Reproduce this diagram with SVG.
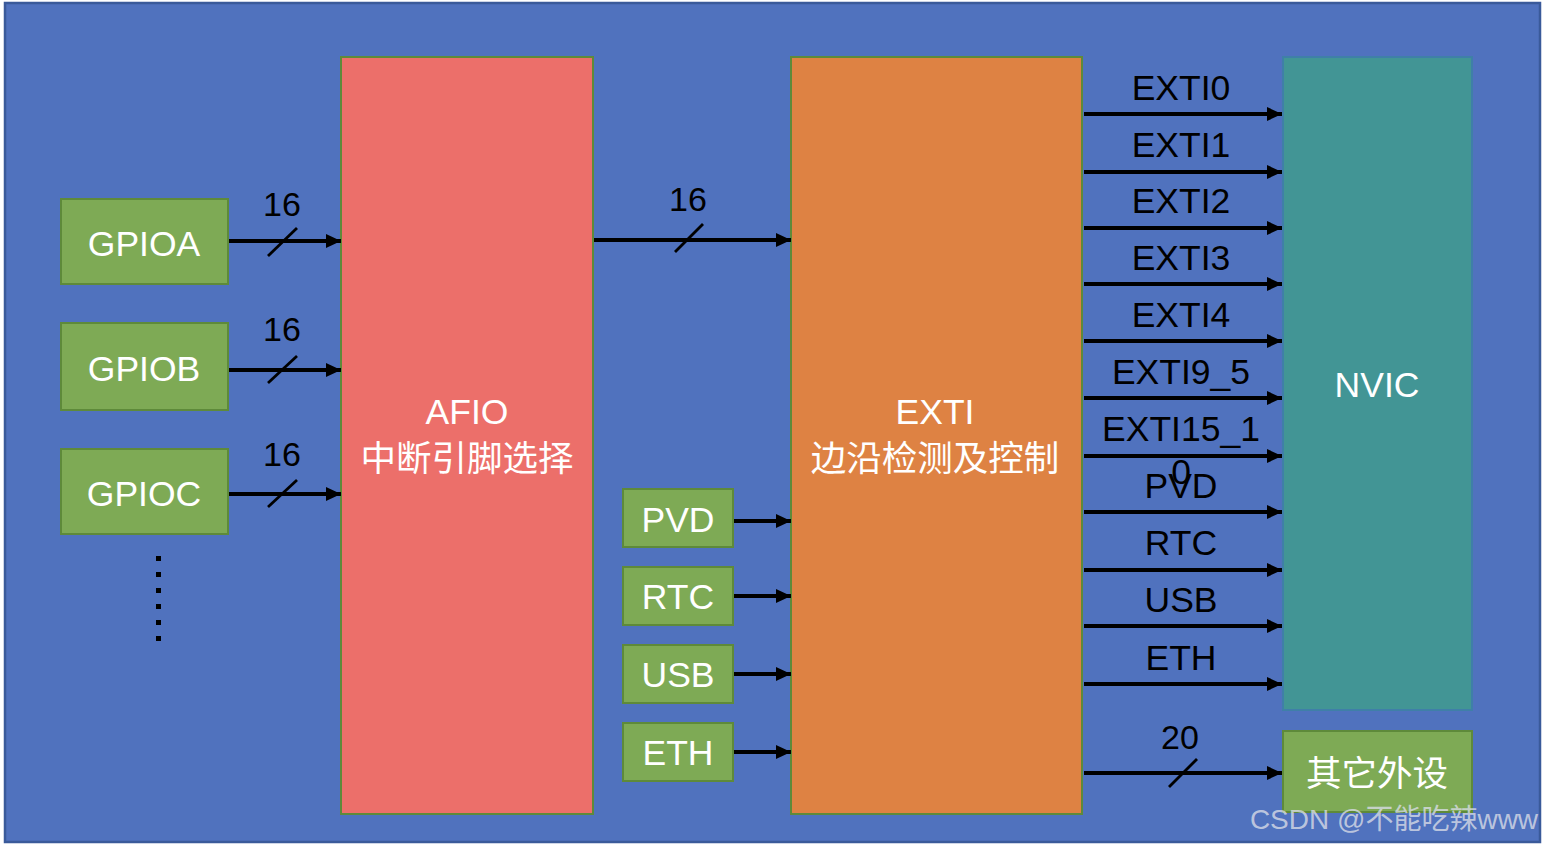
<svg xmlns="http://www.w3.org/2000/svg" width="1544" height="846" viewBox="0 0 1544 846">
<defs>
<marker id="ah" markerWidth="15" markerHeight="14" refX="15" refY="7" orient="auto" markerUnits="userSpaceOnUse">
<path d="M0,0 L15,7 L0,14 Z" fill="#000"/>
</marker>
<style>
.t{font-family:"Liberation Sans","Noto Sans CJK SC",sans-serif;font-size:35.5px;text-anchor:middle}
.w{fill:#fff}
.b{fill:#000}
.g{fill:#7EAA55;stroke:#5E8A3A;stroke-width:2}
.ln{stroke:#000;stroke-width:3.8;fill:none;marker-end:url(#ah)}
.sl{stroke:#000;stroke-width:2.8}
.n{font-family:"Liberation Sans",sans-serif;font-size:34px;text-anchor:middle;fill:#000}
</style>
</defs>
<rect x="5" y="3" width="1535" height="839" fill="#5072BE" stroke="#3A5A9A" stroke-width="2.5"/>

<g id="gpioa"><rect class="g" x="61" y="199" width="167" height="85"/><text class="t w" x="144" y="256">GPIOA</text></g>
<g id="gpiob"><rect class="g" x="61" y="323" width="167" height="87"/><text class="t w" x="144" y="381">GPIOB</text></g>
<g id="gpioc"><rect class="g" x="61" y="449" width="167" height="85"/><text class="t w" x="144" y="506">GPIOC</text></g>
<g id="dots" fill="#000">
<rect x="156" y="556" width="5" height="5"/><rect x="156" y="572" width="5" height="5"/><rect x="156" y="588" width="5" height="5"/><rect x="156" y="604" width="5" height="5"/><rect x="156" y="620" width="5" height="5"/><rect x="156" y="636" width="5" height="5"/>
</g>

<g id="afio"><rect x="341" y="57" width="252" height="757" fill="#EC6F6A" stroke="#5E8A3A" stroke-width="2"/>
<text class="t w" x="467" y="424">AFIO</text><text class="t w" x="467" y="471">中断引脚选择</text></g>

<g id="exti"><rect x="791" y="57" width="291" height="757" fill="#DE8243" stroke="#5E8A3A" stroke-width="2"/>
<text class="t w" x="935" y="424">EXTI</text><text class="t w" x="935" y="471">边沿检测及控制</text></g>

<g id="pvd"><rect class="g" x="623" y="489" width="110" height="58"/><text class="t w" x="678" y="532">PVD</text></g>
<g id="rtc"><rect class="g" x="623" y="567" width="110" height="58"/><text class="t w" x="678" y="609">RTC</text></g>
<g id="usb"><rect class="g" x="623" y="645" width="110" height="58"/><text class="t w" x="678" y="687">USB</text></g>
<g id="eth"><rect class="g" x="623" y="723" width="110" height="58"/><text class="t w" x="678" y="765">ETH</text></g>

<g id="nvic"><rect x="1283" y="57" width="189" height="653" fill="#429595" stroke="#3F7FA8" stroke-width="2"/><text class="t w" x="1377" y="397">NVIC</text></g>
<g id="other"><rect class="g" x="1283" y="731" width="189" height="81"/><text class="t w" x="1377" y="786">其它外设</text></g>

<g id="connectors">
<line class="ln" x1="229" y1="241" x2="341" y2="241"/>
<line class="sl" x1="268" y1="256" x2="297" y2="228"/>
<text class="n" x="282" y="216">16</text>
<line class="ln" x1="229" y1="370" x2="341" y2="370"/>
<line class="sl" x1="268" y1="383" x2="297" y2="356"/>
<text class="n" x="282" y="341">16</text>
<line class="ln" x1="229" y1="494" x2="341" y2="494"/>
<line class="sl" x1="268" y1="507" x2="297" y2="480"/>
<text class="n" x="282" y="466">16</text>

<line class="ln" x1="594" y1="240" x2="791" y2="240"/>
<line class="sl" x1="675" y1="252" x2="703" y2="224"/>
<text class="n" x="688" y="211">16</text>

<line class="ln" x1="734" y1="521" x2="791" y2="521"/>
<line class="ln" x1="734" y1="596" x2="791" y2="596"/>
<line class="ln" x1="734" y1="674" x2="791" y2="674"/>
<line class="ln" x1="734" y1="752" x2="791" y2="752"/>

<line class="ln" x1="1084" y1="114" x2="1282" y2="114"/>
<line class="ln" x1="1084" y1="172" x2="1282" y2="172"/>
<line class="ln" x1="1084" y1="228" x2="1282" y2="228"/>
<line class="ln" x1="1084" y1="284" x2="1282" y2="284"/>
<line class="ln" x1="1084" y1="341" x2="1282" y2="341"/>
<line class="ln" x1="1084" y1="398" x2="1282" y2="398"/>
<line class="ln" x1="1084" y1="456" x2="1282" y2="456"/>
<line class="ln" x1="1084" y1="512" x2="1282" y2="512"/>
<line class="ln" x1="1084" y1="570" x2="1282" y2="570"/>
<line class="ln" x1="1084" y1="626" x2="1282" y2="626"/>
<line class="ln" x1="1084" y1="684" x2="1282" y2="684"/>
<text class="t b" x="1181" y="100">EXTI0</text>
<text class="t b" x="1181" y="157">EXTI1</text>
<text class="t b" x="1181" y="213">EXTI2</text>
<text class="t b" x="1181" y="270">EXTI3</text>
<text class="t b" x="1181" y="327">EXTI4</text>
<text class="t b" x="1181" y="384">EXTI9_5</text>
<text class="t b" x="1181" y="441">EXTI15_1<tspan x="1181" y="484">0</tspan></text>
<text class="t b" x="1181" y="498">PVD</text>
<text class="t b" x="1181" y="555">RTC</text>
<text class="t b" x="1181" y="612">USB</text>
<text class="t b" x="1181" y="670">ETH</text>

<line class="ln" x1="1084" y1="773" x2="1282" y2="773"/>
<line class="sl" x1="1169" y1="787" x2="1197" y2="759"/>
<text class="n" x="1180" y="749">20</text>
</g>
<text x="1394" y="829" font-family="'Liberation Sans','Noto Sans CJK SC',sans-serif" font-size="28" fill="#D8DCE6" fill-opacity="0.8" text-anchor="middle">CSDN @不能吃辣www</text>
</svg>
